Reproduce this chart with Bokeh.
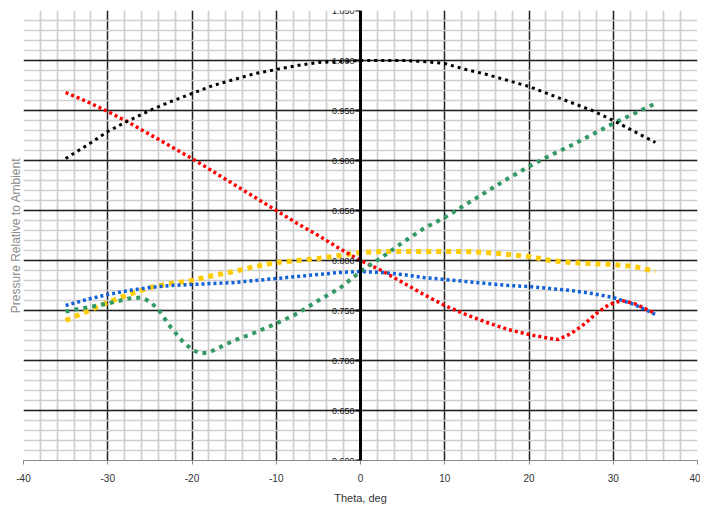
from bokeh.plotting import figure
from bokeh.models import FixedTicker, Title, NumeralTickFormatter
from bokeh.embed import file_html
from bokeh.resources import INLINE

# ---- axes / ticks ----
x_ticks = [-40, -30, -20, -10, 0, 10, 20, 30, 40]
x_tick_labels = ["-40", "-30", "-20", "-10", "0", "10", "20", "30", "40"]
y_ticks = [0.60, 0.65, 0.70, 0.75, 0.80, 0.85, 0.90, 0.95, 1.00, 1.05]
y_tick_labels = ["0.600", "0.650", "0.700", "0.750", "0.800", "0.850", "0.900", "0.950", "1.000", "1.050"]
x_grid_major = [-40, -30, -20, -10, 10, 20, 30]
x_grid_minor = list(range(-38, 41, 2))
y_grid_major = [0.65, 0.70, 0.75, 0.80, 0.85, 0.90, 0.95, 1.00, 1.05]
y_grid_minor = [round(0.60 + 0.01 * i, 2) for i in range(1, 45)]

# ---- data ----
theta = [-35, -32.5, -30, -27.5, -25, -22.5, -20, -17.5, -15, -12.5, -10, -7.5, -5, -2.5,
         0, 2.5, 5, 7.5, 10, 12.5, 15, 17.5, 20, 22.5, 25, 27.5, 30, 32.5, 35]

black = [0.902, 0.915, 0.929, 0.940, 0.950, 0.959, 0.967, 0.975, 0.981, 0.987, 0.991, 0.995, 0.998, 0.999,
         1.000, 1.000, 1.000, 0.999, 0.997, 0.991, 0.986, 0.980, 0.974, 0.966, 0.958, 0.950, 0.940, 0.929, 0.918]

yellow = [0.740, 0.749, 0.758, 0.766, 0.773, 0.777, 0.780, 0.785, 0.789, 0.794, 0.798, 0.800, 0.802, 0.805,
          0.808, 0.809, 0.809, 0.809, 0.809, 0.809, 0.808, 0.806, 0.804, 0.800, 0.798, 0.797, 0.796, 0.794, 0.789]

blue = [0.755, 0.761, 0.766, 0.770, 0.773, 0.775, 0.776, 0.777, 0.778, 0.780, 0.782, 0.784, 0.786, 0.788,
        0.789, 0.788, 0.786, 0.783, 0.781, 0.779, 0.777, 0.775, 0.774, 0.772, 0.770, 0.767, 0.763, 0.756, 0.746]

red_theta = [-35, -32.5, -30, -27.5, -25, -22.5, -20, -17.5, -15, -12.5, -10, -7.5, -5, -2.5,
             0, 2.5, 5, 7.5, 10, 12.5, 15, 17.5, 20, 22.5, 23.5, 25, 26.5, 28, 29.5, 31, 32.5, 34, 35]
red = [0.968, 0.959, 0.949, 0.938, 0.926, 0.914, 0.902, 0.889, 0.876, 0.863, 0.850, 0.837, 0.825, 0.812,
       0.800, 0.790, 0.778, 0.766, 0.755, 0.746, 0.738, 0.731, 0.726, 0.722, 0.721, 0.727, 0.736, 0.747,
       0.756, 0.760, 0.757, 0.751, 0.747]

green_theta = [-35, -32.5, -30, -27.5, -26, -25, -24, -22.5, -21, -20, -19, -18, -17, -15, -12.5, -10,
               -7.5, -5, -2.5, 0, 2.5, 5, 7.5, 10, 12.5, 15, 17.5, 20, 22.5, 25, 27.5, 30, 32.5, 35]
green = [0.749, 0.753, 0.757, 0.762, 0.763, 0.759, 0.751, 0.733, 0.718, 0.711, 0.707, 0.708, 0.712, 0.720,
         0.728, 0.737, 0.747, 0.760, 0.772, 0.789, 0.803, 0.818, 0.832, 0.843, 0.856, 0.869, 0.882, 0.894,
         0.905, 0.915, 0.926, 0.937, 0.947, 0.957]

FONT = "Liberation Sans"

p = figure(width=700, height=506, x_range=(-40, 40), y_range=(0.6, 1.05),
           output_backend="svg", toolbar_location=None,
           min_border_left=23, min_border_right=3, min_border_top=10, min_border_bottom=45)
p.outline_line_color = None
p.background_fill_color = "white"

# grids
p.xgrid.ticker = FixedTicker(ticks=x_grid_major, minor_ticks=x_grid_minor)
p.ygrid.ticker = FixedTicker(ticks=y_grid_major, minor_ticks=y_grid_minor)
for g in (p.xgrid, p.ygrid):
    g.grid_line_color = "#222222"
    g.grid_line_width = 1.4
    g.minor_grid_line_color = "#cfcfcf"
    g.minor_grid_line_width = 1.7

# x axis
p.xaxis.ticker = FixedTicker(ticks=x_ticks)
p.xaxis.major_label_overrides = dict(zip(x_ticks, x_tick_labels))
p.xaxis.axis_label = "Theta, deg"
p.xaxis.axis_label_text_font = FONT
p.xaxis.axis_label_text_font_style = "normal"
p.xaxis.axis_label_text_font_size = "11px"
p.xaxis.axis_label_text_color = "#333333"
p.xaxis.axis_label_standoff = 7
p.xaxis.major_label_text_font = FONT
p.xaxis.major_label_text_font_size = "10px"
p.xaxis.major_label_text_color = "#333333"
p.xaxis.major_label_standoff = 9
p.xaxis.axis_line_color = "#888888"
p.xaxis.major_tick_line_color = "#888888"
p.xaxis.major_tick_out = 4
p.xaxis.major_tick_in = 0
p.xaxis.minor_tick_line_color = None

# y axis drawn at theta = 0
p.yaxis.fixed_location = 0
p.yaxis.ticker = FixedTicker(ticks=y_ticks)
p.yaxis.major_label_overrides = dict(zip(y_ticks, y_tick_labels))
p.yaxis.formatter = NumeralTickFormatter(format="0.000")
p.yaxis.major_label_text_font = FONT
p.yaxis.major_label_text_font_size = "9px"
p.yaxis.major_label_text_color = "#111111"
p.yaxis.major_label_standoff = 1
p.yaxis.axis_line_color = "black"
p.yaxis.axis_line_width = 3
p.yaxis.major_tick_line_color = "black"
p.yaxis.major_tick_line_width = 2
p.yaxis.major_tick_out = 5
p.yaxis.major_tick_in = 0
p.yaxis.minor_tick_line_color = None

p.add_layout(Title(text="Pressure Relative to Ambient", align="center",
                   text_font=FONT, text_font_size="12px", text_font_style="normal",
                   text_color="#8a8a8a", standoff=2), "left")

# series
p.line(theta, yellow, line_color="#FFCC00", line_width=5, line_dash="5 5")
p.line(theta, blue, line_color="#1262d8", line_width=3.5, line_dash="3 3")
p.line(red_theta, red, line_color="#FF0000", line_width=3.5, line_dash="3 3")
p.line(green_theta, green, line_color="#339966", line_width=4, line_dash="4 5")
p.line(theta, black, line_color="black", line_width=3, line_dash="3 4")

open("out.html", "w").write(file_html(p, INLINE))
